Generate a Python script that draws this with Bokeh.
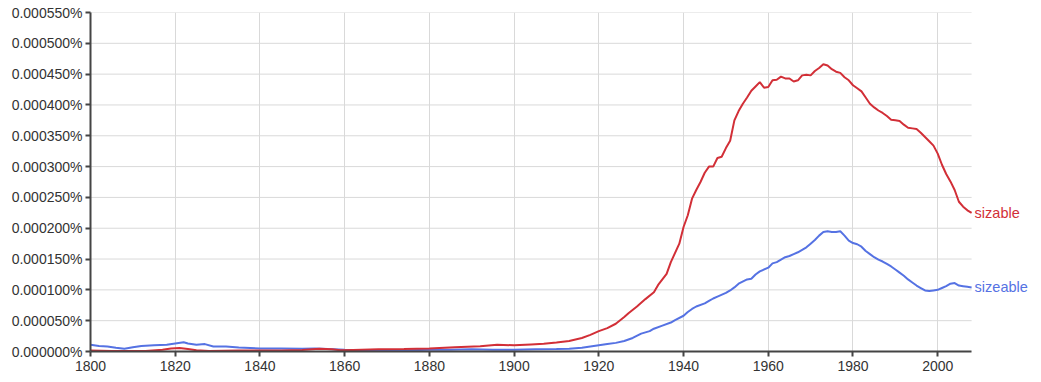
from bokeh.plotting import figure
from bokeh.models import FixedTicker, Label
from bokeh.embed import file_html
from bokeh.resources import INLINE

# values are in units of 0.000001 %
sizable_years = [1800, 1805, 1810, 1813, 1817, 1819, 1821, 1823, 1825, 1828, 1835, 1845, 1850, 1854,
                 1857, 1859, 1862, 1868, 1874, 1880, 1886, 1892, 1896, 1900, 1904, 1907, 1910, 1913,
                 1916, 1918, 1920, 1922, 1924, 1926, 1927, 1929, 1931, 1933, 1934, 1936, 1937, 1939,
                 1940, 1941, 1942, 1943, 1944, 1945, 1946, 1947, 1948, 1949, 1950, 1951, 1952, 1953,
                 1954, 1955, 1956, 1957, 1958, 1959, 1960, 1961, 1962, 1963, 1964, 1965, 1966, 1967,
                 1968, 1969, 1970, 1971, 1972, 1973, 1974, 1975, 1976, 1977, 1978, 1979, 1980, 1981,
                 1982, 1983, 1984, 1985, 1986, 1987, 1988, 1989, 1990, 1991, 1992, 1993, 1994, 1995,
                 1996, 1997, 1998, 1999, 2000, 2001, 2002, 2003, 2004, 2005, 2006, 2007, 2008]
sizable_vals = [1.5, 1, 1, 1, 3, 5, 5.5, 4, 2, 1, 1.5, 1.5, 2.5, 4.5,
                3.5, 2, 2.5, 3.5, 4, 5, 7, 8.5, 11, 10, 11.5, 12.5, 14.5, 17,
                22, 27, 33, 38, 45, 56, 62, 73, 85, 96, 108, 126, 145, 175,
                202, 221, 248, 262, 275, 290, 300, 300, 314, 316, 330, 342, 375, 390,
                402, 412, 423, 430, 437, 428, 429, 440, 441, 446, 443, 443, 438, 440,
                448, 449, 448, 455, 460, 466, 464, 458, 454, 452, 445, 440, 432, 427,
                422, 412, 402, 396, 391, 387, 382, 376, 375, 374, 368, 363, 362, 361,
                355, 348, 341, 334, 321, 303, 288, 276, 262, 243, 235, 229, 225]

sizeable_years = [1800, 1802, 1804, 1806, 1808, 1810, 1812, 1815, 1818, 1820, 1822, 1823, 1825, 1827,
                  1829, 1832, 1835, 1840, 1845, 1850, 1853, 1856, 1860, 1865, 1870, 1875, 1880, 1885,
                  1890, 1895, 1900, 1905, 1910, 1913, 1916, 1918, 1920, 1922, 1924, 1926, 1928, 1930,
                  1932, 1933, 1935, 1937, 1938, 1940, 1941, 1942, 1943, 1945, 1946, 1947, 1948, 1950,
                  1951, 1952, 1953, 1955, 1956, 1957, 1958, 1960, 1961, 1962, 1963, 1964, 1965, 1966,
                  1967, 1968, 1969, 1970, 1971, 1972, 1973, 1974, 1975, 1976, 1977, 1978, 1979, 1980,
                  1981, 1982, 1983, 1984, 1985, 1986, 1987, 1988, 1989, 1990, 1991, 1992, 1993, 1994,
                  1995, 1996, 1997, 1998, 1999, 2000, 2001, 2002, 2003, 2004, 2005, 2006, 2007, 2008]
sizeable_vals = [11, 9, 8, 6, 4.5, 7, 9, 10, 11, 13, 15, 13, 11, 12,
                 8, 8, 6.5, 5, 5, 4.5, 5, 4, 3, 2, 1.5, 2, 3, 3,
                 3.5, 3, 3, 3.5, 4, 4.5, 6, 8, 10, 12, 14, 17, 22, 29,
                 33, 37, 42, 47, 51, 58, 64, 69, 73, 78, 82, 86, 89, 95,
                 99, 104, 110, 117, 118, 125, 130, 136, 143, 145, 149, 153, 155, 158,
                 161, 165, 169, 175, 181, 188, 194, 195, 194, 194, 195, 188, 180, 176,
                 174, 170, 163, 158, 153, 149, 146, 142, 138, 133, 128, 123, 117, 112,
                 107, 103, 99, 98, 99, 100, 103, 106, 110, 111, 107, 106, 105, 104]

y_ticks = [0, 50, 100, 150, 200, 250, 300, 350, 400, 450, 500, 550]
y_tick_labels = ["0.000000%", "0.000050%", "0.000100%", "0.000150%", "0.000200%", "0.000250%",
                 "0.000300%", "0.000350%", "0.000400%", "0.000450%", "0.000500%", "0.000550%"]
x_ticks = [1800, 1820, 1840, 1860, 1880, 1900, 1920, 1940, 1960, 1980, 2000]
x_start, x_end = 1800, 2008

RED = "#d22f37"
BLUE = "#5572e3"
FONT = "Liberation Sans"

# frame extends past the data end so the series labels fit to the right
p = figure(width=1041, height=382, x_range=(x_start, 2024.5), y_range=(0, 550),
           output_backend="svg", toolbar_location=None,
           min_border_left=90, min_border_right=0, min_border_top=12, min_border_bottom=31)
p.outline_line_color = None
p.background_fill_color = "white"
p.border_fill_color = "white"

# horizontal grid lines, bounded to the data span
p.segment(x0=[x_start] * len(y_ticks), y0=y_ticks, x1=[x_end] * len(y_ticks), y1=y_ticks,
          line_color="#d9d9d9", line_width=1)

p.line(sizeable_years, sizeable_vals, line_color=BLUE, line_width=2)
p.line(sizable_years, sizable_vals, line_color=RED, line_width=2)

p.yaxis.ticker = FixedTicker(ticks=y_ticks)
p.yaxis.major_label_overrides = {t: l for t, l in zip(y_ticks, y_tick_labels)}
p.xaxis.ticker = FixedTicker(ticks=x_ticks)
p.xaxis.bounds = (x_start, x_end)

for ax in (p.xaxis, p.yaxis):
    ax.axis_line_color = "#444444"
    ax.axis_line_width = 2
    ax.major_tick_line_color = "#444444"
    ax.major_tick_line_width = 2
    ax.major_tick_out = 5
    ax.major_tick_in = 0
    ax.minor_tick_line_color = None
    ax.major_label_text_color = "#333333"
    ax.major_label_text_font = FONT
    ax.major_label_standoff = 3

p.yaxis.major_label_text_font_size = "14px"
p.xaxis.major_label_text_font_size = "14px"
p.xaxis.major_label_standoff = 4

p.xgrid.ticker = FixedTicker(ticks=x_ticks)
p.xgrid.grid_line_color = "#d9d9d9"
p.xgrid.grid_line_width = 1
p.ygrid.visible = False

p.add_layout(Label(x=sizable_years[-1], y=sizable_vals[-1], text="sizable", x_offset=3,
                   text_baseline="middle", text_color=RED, text_font=FONT,
                   text_font_size="14.5px"))
p.add_layout(Label(x=sizeable_years[-1], y=sizeable_vals[-1], text="sizeable", x_offset=3,
                   text_baseline="middle", text_color=BLUE, text_font=FONT,
                   text_font_size="14.5px"))

open("out.html", "w").write(file_html(p, INLINE))
